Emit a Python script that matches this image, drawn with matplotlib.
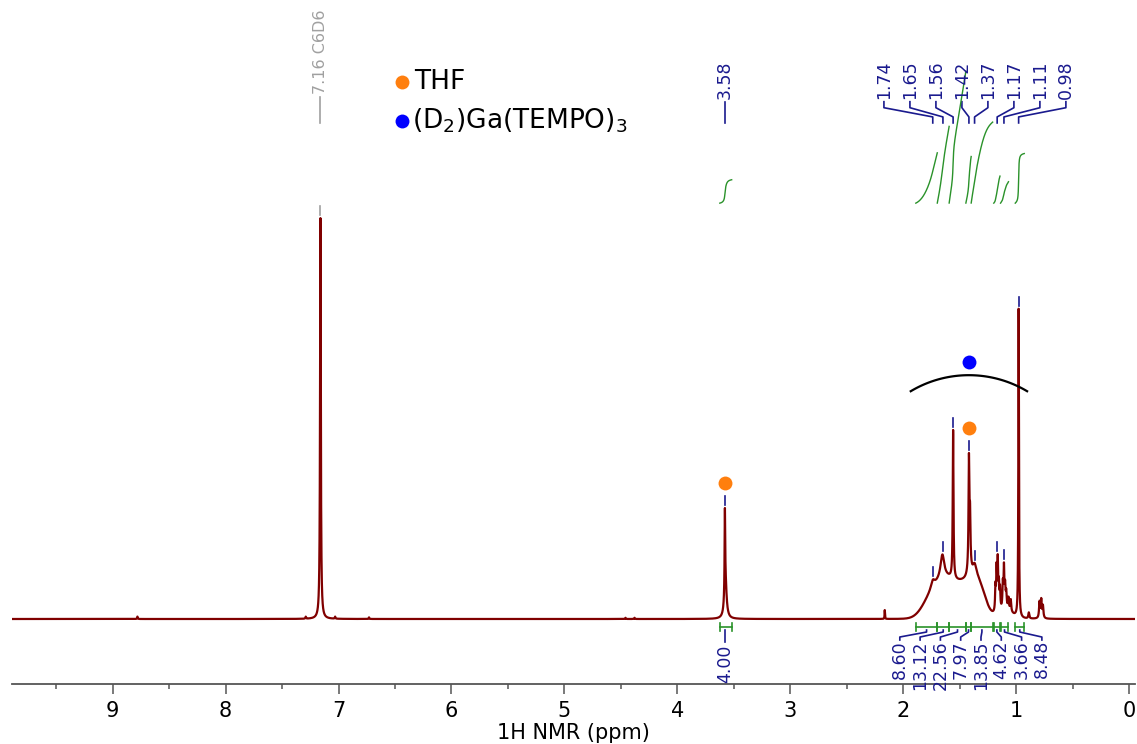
import numpy as np
import matplotlib.pyplot as plt

# sharp (lorentzian) lines: position (ppm), height, half width
sharp_ppm = [8.78, 7.29, 7.16, 7.03, 6.73, 4.46, 4.38, 3.580, 3.575, 2.165,
             1.74, 1.655, 1.56, 1.42, 1.41, 1.415, 1.37,
             1.185, 1.175, 1.165, 1.155, 1.145, 1.12, 1.11, 1.10, 1.09, 1.07, 1.05,
             0.98, 0.89, 0.795, 0.78, 0.765]
sharp_height = [0.006, 0.005, 1.0, 0.005, 0.004, 0.003, 0.003, 0.2, 0.09, 0.022,
                0.02, 0.06, 0.37, 0.245, 0.1, 0.06, 0.03,
                0.06, 0.1, 0.12, 0.06, 0.05, 0.06, 0.1, 0.05, 0.04, 0.03, 0.03,
                0.77, 0.015, 0.04, 0.045, 0.03]
sharp_width = [0.003, 0.003, 0.004, 0.003, 0.003, 0.003, 0.003, 0.003, 0.012, 0.002,
               0.02, 0.02, 0.004, 0.004, 0.004, 0.012, 0.02,
               0.004, 0.004, 0.004, 0.004, 0.004, 0.004, 0.004, 0.004, 0.005, 0.005, 0.005,
               0.003, 0.005, 0.005, 0.005, 0.005]

# broad humps under the aliphatic region: centre, height, sigma
broad_ppm = [1.75, 1.62, 1.45, 1.33, 1.10]
broad_height = [0.05, 0.075, 0.08, 0.06, 0.02]
broad_sigma = [0.08, 0.08, 0.09, 0.06, 0.06]

# picked peaks
multi_labels = ['1.74', '1.65', '1.56', '1.42', '1.37', '1.17', '1.11', '0.98']
multi_ppm = [1.74, 1.65, 1.56, 1.42, 1.37, 1.17, 1.11, 0.98]
thf_ppm = 3.58
solvent_ppm = 7.16

# integrals: start, end, value
int_start = [1.89, 1.70, 1.595, 1.447, 1.40, 1.20, 1.14, 1.01]
int_end = [1.70, 1.595, 1.447, 1.40, 1.21, 1.145, 1.07, 0.93]
int_values = [8.60, 13.12, 22.56, 7.97, 13.85, 4.62, 3.66, 8.48]
thf_int = (3.625, 3.52, 4.00)

# assignment markers
thf_marks_ppm = [3.58, 1.42]
thf_marks_y = [0.339, 0.476]
ga_mark_ppm = 1.42
ga_mark_y = 0.641
ga_arc_half = 0.515   # half span of the bracket arc (ppm)
ga_arc_top = 0.608
ga_arc_drop = 0.04

red = '#800000'
blue = '#1a1a8e'
green = '#2a922a'
grey = '#a0a0a0'
orange = '#ff7f0e'

ppm = np.linspace(9.89, -0.05, 60000)
spec = np.zeros_like(ppm)
for p, h, w in zip(sharp_ppm, sharp_height, sharp_width):
    spec += h * w**2 / ((ppm - p)**2 + w**2)
for p, h, s in zip(broad_ppm, broad_height, broad_sigma):
    spec += h * np.exp(-(ppm - p)**2 / (2 * s**2))


def local_top(x, win=0.006):
    m = np.abs(ppm - x) <= win
    return spec[m].max()


fig = plt.figure(figsize=(11.37, 7.44), dpi=100)
ax = fig.add_axes([12 / 1137, 60 / 744, 1123 / 1137, 684 / 744])
ax.plot(ppm, spec, color=red, lw=1.6)
ax.set_xlim(9.89, -0.05)
ax.set_ylim(-0.1621, 1.5436)

for s in ['top', 'left', 'right']:
    ax.spines[s].set_visible(False)
ax.spines['bottom'].set_color('#555555')
ax.spines['bottom'].set_linewidth(1.3)
ax.set_yticks([])
ax.set_xticks(np.arange(0, 10, 1))
ax.set_xticks(np.arange(0.5, 10, 1), minor=True)
ax.tick_params(axis='x', which='major', length=7, width=1.1, color='#555555',
               labelsize=15, pad=5)
ax.tick_params(axis='x', which='minor', length=3.5, width=1.1, color='#555555')
ax.set_xlabel('1H NMR (ppm)', fontsize=15, labelpad=2)

px = 1 / 401  # one pixel in y data units


# peak ticks
def peak_tick(x, c):
    y = local_top(x) + 3 * px
    ax.plot([x, x], [y, y + 9 * px], color=c, lw=1.2)


for p in multi_ppm:
    peak_tick(p, blue)
peak_tick(thf_ppm, blue)
peak_tick(solvent_ppm, grey)

# peak labels
lab_fs = 12.5
y_top0, y_top1, y_top2, y_top3 = 1.290, 1.275, 1.252, 1.237
ax.plot([solvent_ppm, solvent_ppm], [y_top3, 1.302], color=grey, lw=1.2)
ax.text(solvent_ppm, 1.308, '7.16 C6D6', rotation=90, ha='center', va='bottom',
        color=grey, fontsize=11.5)
ax.plot([thf_ppm, thf_ppm], [y_top3, 1.290], color=blue, lw=1.2)
ax.text(thf_ppm, 1.297, '3.58', rotation=90, ha='center', va='bottom',
        color=blue, fontsize=lab_fs)

grp_center = 1.367
grp_step = 26 / 113
for i, (lab, p) in enumerate(zip(multi_labels, multi_ppm)):
    lx = grp_center + (3.5 - i) * grp_step
    ax.plot([lx, lx, p, p], [y_top0, y_top1, y_top2, y_top3], color=blue, lw=1.2)
    ax.text(lx, y_top0 + 3 * px, lab, rotation=90, ha='center', va='bottom',
            color=blue, fontsize=lab_fs)

# integrals
int_base = 1.037
int_scale = 5.85 * px
y_br = -0.02
tk = 4 * px


def draw_integral(a, b, v):
    m = (ppm <= a) & (ppm >= b)
    cum = np.cumsum(spec[m])
    cum = cum / cum[-1]
    ax.plot(ppm[m], int_base + cum * v * int_scale, color=green, lw=1.0)
    ax.plot([a, b], [y_br, y_br], color=green, lw=1.2)
    ax.plot([a, a], [y_br - tk, y_br + tk], color=green, lw=1.2)
    ax.plot([b, b], [y_br - tk, y_br + tk], color=green, lw=1.2)


for a, b, v in zip(int_start, int_end, int_values):
    draw_integral(a, b, v)
draw_integral(*thf_int)

ax.plot([thf_ppm, thf_ppm], [y_br - 3 * px, y_br - 15 * px], color=blue, lw=1.2)
ax.text(thf_ppm, y_br - 18 * px, f'{thf_int[2]:.2f}', rotation=90, ha='center',
        va='top', color=blue, fontsize=lab_fs)

ilab_center = 1.403
ilab_step = 20.3 / 113
for i, (a, b, v) in enumerate(zip(int_start, int_end, int_values)):
    c = (a + b) / 2
    lx = ilab_center + (3.5 - i) * ilab_step
    ax.plot([c, c, lx, lx], [y_br - 3 * px, y_br - 5 * px, y_br - 10 * px, y_br - 13 * px],
            color=blue, lw=1.2)
    ax.text(lx, y_br - 13 * px, f'{v:.2f}', rotation=90, ha='center', va='top',
            color=blue, fontsize=lab_fs)

# assignment markers
ax.plot(thf_marks_ppm, thf_marks_y, 'o', color=orange, ms=10, mec='none')
ax.plot([ga_mark_ppm], [ga_mark_y], 'o', color='#0000ff', ms=10, mec='none')
# circular arc spanning the TEMPO multiplets (circle in screen space)
half_ang = np.arcsin(58 / 113)
t = np.linspace(np.pi / 2 - half_ang, np.pi / 2 + half_ang, 100)
arc_x = ga_mark_ppm + ga_arc_half * np.cos(t) / np.sin(half_ang)
arc_y = ga_arc_top - ga_arc_drop * (1 - np.sin(t)) / (1 - np.cos(half_ang))
ax.plot(arc_x, arc_y, color='black', lw=1.6)

# legend
ax.plot([0.3475], [0.880], 'o', color=orange, ms=10, mec='none', transform=ax.transAxes)
ax.plot([0.3475], [0.823], 'o', color='#0000ff', ms=10, mec='none', transform=ax.transAxes)
ax.text(0.358, 0.880, 'THF', transform=ax.transAxes, fontsize=19, va='center')
ax.text(0.356, 0.823, '(D$_2$)Ga(TEMPO)$_3$', transform=ax.transAxes, fontsize=19,
        va='center')

fig.savefig('out.png', dpi=100)
